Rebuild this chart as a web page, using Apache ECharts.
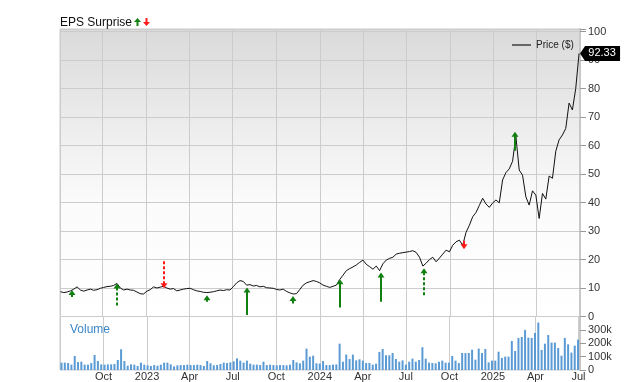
<!DOCTYPE html>
<html><head><meta charset="utf-8">
<script src="https://cdn.jsdelivr.net/npm/echarts@6/dist/echarts.min.js"></script>
<style>html,body{margin:0;padding:0;background:#fff}#c{width:640px;height:382px}</style>
</head><body><div id="c"></div>
<script>
// weekly series start (Mondays)
const startYear = 2022, startMonth = 6, startDay = 4;
const priceValues = [
  8.7, 8.4, 8.6, 9.0, 9.6, 10.4, 9.3, 8.9, 9.3, 9.6,
  9.2, 9.4, 9.9, 10.2, 10.5, 10.6, 10.9, 11.6, 10.0, 9.3,
  9.6, 9.3, 9.2, 8.6, 8.0, 7.9, 8.9, 9.4, 10.4, 10.0,
  10.3, 10.6, 10.0, 9.6, 9.8, 9.0, 9.3, 9.6, 9.8, 9.9,
  9.4, 9.0, 8.8, 8.5, 8.4, 8.5, 8.7, 9.0, 9.3, 9.1,
  9.4, 9.3, 10.5, 11.8, 12.6, 12.3, 11.0, 11.2, 10.7, 10.9,
  10.4, 10.6, 10.1, 10.0, 9.9, 9.5, 9.3, 9.6, 8.8, 8.3,
  7.9, 8.0, 9.5, 11.0, 11.8, 12.2, 12.6, 12.3, 11.8, 11.0,
  10.6, 10.2, 10.6, 11.0, 13.0, 14.5, 16.1, 16.8, 17.4, 18.1,
  19.0, 19.8, 18.3, 17.5, 16.6, 17.7, 16.1, 18.5, 19.8, 20.4,
  20.8, 21.9, 22.2, 22.4, 22.6, 22.8, 23.1, 22.5, 20.8, 17.7,
  18.7, 20.0, 20.8, 19.2, 20.5, 21.9, 23.3, 22.7, 25.0, 26.2,
  26.8, 25.0, 29.5, 32.0, 35.0, 36.5, 39.0, 41.5, 39.5, 38.3,
  39.8, 40.9, 39.9, 47.9, 50.5, 51.8, 54.5, 63.3, 51.4, 49.6,
  42.0, 39.1, 44.1, 42.6, 34.4, 43.2, 41.2, 49.3, 48.5, 58.0,
  62.0, 63.7, 66.0, 74.9, 72.5, 80.0, 92.33
];
// weekly volume in thousands
const volumeK = [
  55, 55, 52, 40, 105, 60, 62, 40, 40, 52,
  112, 67, 42, 40, 42, 42, 45, 75, 155, 67,
  32, 42, 40, 30, 55, 40, 35, 30, 37, 32,
  40, 55, 55, 42, 27, 35, 37, 37, 40, 37,
  37, 40, 37, 30, 67, 50, 35, 37, 45, 55,
  52, 57, 65, 87, 70, 55, 70, 47, 40, 40,
  37, 62, 37, 40, 37, 35, 37, 37, 35, 40,
  75, 57, 50, 70, 160, 100, 107, 50, 48, 67,
  37, 37, 40, 42, 197, 62, 115, 82, 115, 72,
  80, 70, 52, 52, 40, 47, 135, 157, 110, 110,
  127, 82, 62, 72, 40, 62, 85, 62, 75, 170,
  85, 55, 52, 50, 62, 70, 55, 55, 105, 70,
  52, 127, 127, 127, 152, 77, 160, 127, 157, 57,
  70, 70, 137, 90, 100, 100, 217, 142, 240, 247,
  300, 242, 240, 277, 355, 150, 197, 262, 205, 205,
  165, 107, 240, 192, 130, 182, 227
];
// EPS surprise markers
const epsDates  = ['2022-07-29','2022-10-31','2023-02-07','2023-05-09','2023-08-01','2023-11-06','2024-02-13','2024-05-08','2024-08-07','2024-10-31','2025-02-16'];
const epsTip    = [9.3, 11.6, 9.9, 7.5, 10.2, 7.2, 13.1, 15.4, 16.9, 23.6, 64.8];
const epsTail   = [6.8, 3.4, 19.8, 5.2, 0.5, 4.6, 3.2, 5.2, 6.9, 26.6, 58.2];
const epsBeat   = [1, 1, 0, 1, 1, 1, 1, 1, 1, 0, 1];
const epsDashed = [0, 1, 1, 0, 0, 0, 0, 0, 1, 0, 0];
const priceTicks = [0, 10, 20, 30, 40, 50, 60, 70, 80, 90, 100];
const volumeTicksK = [0, 100, 200, 300];
const monthNames = ['Jan','Feb','Mar','Apr','May','Jun','Jul','Aug','Sep','Oct','Nov','Dec'];

function weekTime(i){ return new Date(startYear, startMonth, startDay + 7*i).getTime(); }
function parseDate(s){ const p = s.split('-').map(Number); return new Date(p[0], p[1]-1, p[2]).getTime(); }

const xMin = new Date(2022, 6, 3).getTime();
const xMax = new Date(2025, 6, 2).getTime();
const DAY = 86400000;

const priceData = priceValues.map((v, i) => [weekTime(i), v]);
const volumeData = volumeK.map((v, i) => [weekTime(i), v]);
const epsData = epsDates.map((d, i) => [parseDate(d), epsTip[i], epsTail[i], epsBeat[i], epsDashed[i]]);
const lastPrice = priceValues[priceValues.length - 1];

const FONT = 'Liberation Sans, Arial, sans-serif';
const chart = echarts.init(document.getElementById('c'), null, {renderer: 'canvas'});

const xAxisBase = {
  type: 'time', min: xMin, max: xMax,
  minInterval: 88 * DAY, maxInterval: 92 * DAY,
  axisLine: {show: false}, axisTick: {show: false},
  splitLine: {show: true, lineStyle: {color: '#cccccc', width: 1}}
};

chart.setOption({
  animation: false,
  textStyle: {fontFamily: FONT},
  grid: [
    {left: 60, width: 520, top: 29, height: 287.5, show: true, borderColor: '#cccccc', borderWidth: 1,
     backgroundColor: new echarts.graphic.LinearGradient(0, 0, 0, 1, [
       {offset: 0, color: '#dadada'}, {offset: 0.6, color: '#fbfbfb'}, {offset: 1, color: '#ffffff'}])},
    {left: 60, width: 520, top: 316.5, height: 53.5, show: true, borderColor: '#cccccc', borderWidth: 1, backgroundColor: '#ffffff'}
  ],
  legend: {
    data: ['Price ($)'], left: 507, top: 35, icon: 'rect', itemWidth: 19, itemHeight: 2, itemGap: 5,
    itemStyle: {color: '#666666'},
    textStyle: {fontSize: 10, color: '#222', fontFamily: FONT}
  },
  xAxis: [
    Object.assign({}, xAxisBase, {gridIndex: 0, axisLabel: {show: false}}),
    Object.assign({}, xAxisBase, {gridIndex: 1, axisLabel: {
      show: true, color: '#333', fontSize: 11, margin: 1, fontFamily: FONT,
      formatter: function (v) {
        if (v - xMin < 20 * DAY) return '';
        const d = new Date(v);
        return d.getMonth() === 0 ? String(d.getFullYear()) : monthNames[d.getMonth()];
      }
    }})
  ],
  yAxis: [
    {gridIndex: 0, type: 'value', position: 'right', min: priceTicks[0], max: 100.9, interval: 10,
     axisLine: {show: true, lineStyle: {color: '#c8c8c8', width: 2}},
     axisTick: {show: true, length: 6, lineStyle: {color: '#999'}},
     axisLabel: {color: '#333', fontSize: 11, margin: 8, fontFamily: FONT,
       formatter: function (v) { return priceTicks.indexOf(v) >= 0 ? String(v) : ''; }},
     splitLine: {show: true, lineStyle: {color: '#cccccc'}}},
    {gridIndex: 1, type: 'value', position: 'right', min: 0, max: 400, interval: 100,
     axisLine: {show: true, lineStyle: {color: '#c8c8c8', width: 2}},
     axisTick: {show: true, length: 6, lineStyle: {color: '#999'}},
     axisLabel: {color: '#333', fontSize: 11, margin: 8, fontFamily: FONT,
       formatter: function (v) { return volumeTicksK.indexOf(v) >= 0 ? (v === 0 ? '0' : v + 'k') : ''; }},
     splitLine: {show: false}}
  ],
  graphic: [
    {type: 'text', left: 60, top: 16.5, style: {text: 'EPS Surprise', fontSize: 12, fill: '#111', fontFamily: FONT}},
    {type: 'polygon', shape: {points: [[137.5, 18], [134, 22], [141, 22]]}, style: {fill: '#118011'}},
    {type: 'rect', shape: {x: 136.5, y: 21.5, width: 2, height: 4.5}, style: {fill: '#118011'}},
    {type: 'rect', shape: {x: 145.5, y: 18, width: 2, height: 4.5}, style: {fill: '#ff1a1a'}},
    {type: 'polygon', shape: {points: [[146.5, 26], [143, 22], [150, 22]]}, style: {fill: '#ff1a1a'}},
    {type: 'text', left: 70, top: 324, style: {text: 'Volume', fontSize: 12, fill: '#3a87c9', fontFamily: FONT}}
  ],
  series: [
    {name: 'Volume', type: 'bar', xAxisIndex: 1, yAxisIndex: 1, data: volumeData, barWidth: 2,
     itemStyle: {color: '#5b9bd5'}},
    {name: 'Price ($)', type: 'line', xAxisIndex: 0, yAxisIndex: 0, data: priceData, symbol: 'none',
     lineStyle: {color: '#111', width: 1}, itemStyle: {color: '#111'}, z: 3,
     markPoint: {
       symbol: 'path://M0,7 L5,0 L40,0 L40,14 L5,14 Z', symbolSize: [40, 15], symbolOffset: [21, 0],
       symbolKeepAspect: false, itemStyle: {color: '#000'},
       label: {show: true, color: '#fff', fontSize: 11, fontFamily: FONT, offset: [2, 0],
         formatter: function () { return lastPrice.toFixed(2); }},
       data: [{coord: [priceData[priceData.length - 1][0], lastPrice], value: lastPrice}]
     }},
    {name: 'EPS', type: 'custom', xAxisIndex: 0, yAxisIndex: 0, data: epsData, clip: false, z: 4,
     encode: {x: 0, y: [1, 2]},
     renderItem: function (params, api) {
       const t = api.coord([api.value(0), api.value(1)]);
       const b = api.coord([api.value(0), api.value(2)]);
       const beat = api.value(3) === 1;
       const dashed = api.value(4) === 1;
       const color = beat ? '#118011' : '#ff1a1a';
       const dir = beat ? 1 : -1;
       const x = Math.round(t[0]);
       const hw = 3.5, hh = 5;
       return {type: 'group', children: [
         {type: 'line', shape: {x1: x, y1: t[1] + dir * (hh - 1), x2: x, y2: b[1]},
          style: {stroke: color, lineWidth: 2, lineDash: dashed ? [3, 2] : null}},
         {type: 'polygon', shape: {points: [[x, t[1]], [x - hw, t[1] + dir * hh], [x + hw, t[1] + dir * hh]]},
          style: {fill: color}}
       ]};
     }}
  ]
});
</script></body></html>
